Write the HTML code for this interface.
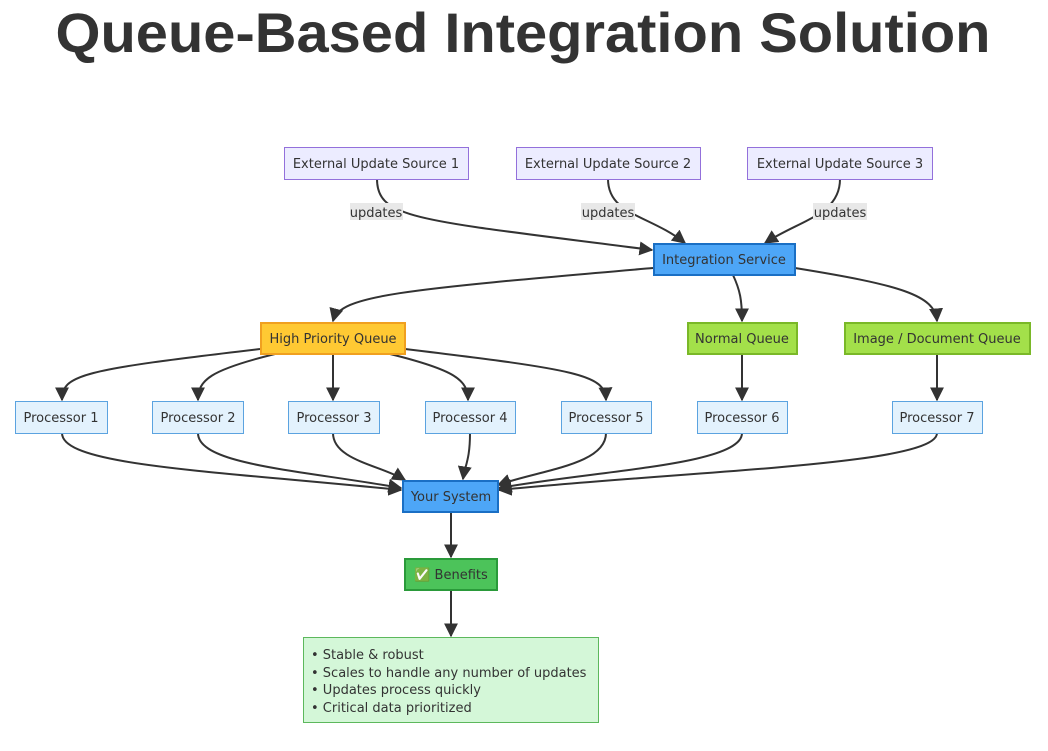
<!DOCTYPE html>
<html><head><meta charset="utf-8"><style>
html,body{margin:0;padding:0;background:#fff;}
svg text{font-family:"DejaVu Sans","Liberation Sans",sans-serif;fill:#333;}
svg text.t{font-family:"Liberation Sans","DejaVu Sans",sans-serif;}
</style></head><body>
<svg width="1048" height="746" viewBox="0 0 1048 746" xmlns="http://www.w3.org/2000/svg">
<defs><marker id="a" viewBox="0 0 10 10" refX="9" refY="5" markerWidth="7" markerHeight="7" orient="auto"><path d="M0,0L10,5L0,10z" fill="#333"/></marker></defs>
<text class="t" x="523" y="52" text-anchor="middle" font-size="56" font-weight="bold" textLength="935" lengthAdjust="spacingAndGlyphs">Queue-Based Integration Solution</text>
<g fill="none" stroke="#333" stroke-width="2" marker-end="url(#a)">
<path d="M377,179 C377,220 420,220 652,250"/>
<path d="M608,179 C608,215 650,215 685,243"/>
<path d="M840,179 C840,215 800,220 765,243"/>
<path d="M653,268 C400,290 340,295 333,321"/>
<path d="M733,275 C740,290 742,300 742,321"/>
<path d="M795,268 C900,285 935,295 937,321"/>
<path d="M260,349 C80,370 62,375 62,400"/>
<path d="M275,354 C210,370 198,380 198,400"/>
<path d="M333,354 L333,400"/>
<path d="M390,354 C455,370 468,380 468,400"/>
<path d="M405,349 C580,370 605,375 606,400"/>
<path d="M742,354 L742,400"/>
<path d="M937,354 L937,400"/>
<path d="M62,433 C62,465 200,470 401,490"/>
<path d="M198,433 C198,465 300,470 401,488"/>
<path d="M333,433 C333,460 380,465 405,480"/>
<path d="M470,433 C470,460 465,465 463,479"/>
<path d="M606,433 C606,465 540,470 498,485"/>
<path d="M742,433 C742,465 600,470 499,488"/>
<path d="M937,433 C937,465 700,470 499,490"/>
<path d="M451,512 L451,557"/>
<path d="M451,590 L451,636"/>
</g>
<g font-size="13" text-anchor="middle">
<rect x="350" y="203" width="53" height="17" fill="#e8e8e8"/><text x="376" y="217">updates</text>
<rect x="581" y="203" width="54" height="17" fill="#e8e8e8"/><text x="608" y="217">updates</text>
<rect x="813" y="203" width="54" height="17" fill="#e8e8e8"/><text x="840" y="217">updates</text>
</g>
<g font-size="13" text-anchor="middle" stroke-width="1">
<rect x="284.5" y="147.5" width="184" height="32" fill="#ececff" stroke="#9370db"/><text x="376" y="168">External Update Source 1</text>
<rect x="516.5" y="147.5" width="184" height="32" fill="#ececff" stroke="#9370db"/><text x="608" y="168">External Update Source 2</text>
<rect x="747.5" y="147.5" width="185" height="32" fill="#ececff" stroke="#9370db"/><text x="840" y="168">External Update Source 3</text>
<rect x="654" y="244" width="141" height="31" fill="#4da6f7" stroke="#1a6fc4" stroke-width="2"/><text x="724" y="264">Integration Service</text>
<rect x="261" y="323" width="144" height="31" fill="#ffc933" stroke="#f0a020" stroke-width="2"/><text x="333" y="343">High Priority Queue</text>
<rect x="688" y="323" width="109" height="31" fill="#a3e04a" stroke="#7ab828" stroke-width="2"/><text x="742" y="343">Normal Queue</text>
<rect x="845" y="323" width="185" height="31" fill="#a3e04a" stroke="#7ab828" stroke-width="2"/><text x="937" y="343">Image / Document Queue</text>
<g fill="#e3f2fd" stroke="#5ba3e0">
<rect x="15.5" y="401.5" width="92" height="32"/><rect x="152.5" y="401.5" width="91" height="32"/><rect x="288.5" y="401.5" width="91" height="32"/><rect x="425.5" y="401.5" width="90" height="32"/><rect x="561.5" y="401.5" width="90" height="32"/><rect x="697.5" y="401.5" width="90" height="32"/><rect x="892.5" y="401.5" width="90" height="32"/>
</g>
<text x="61" y="422">Processor 1</text><text x="198" y="422">Processor 2</text><text x="334" y="422">Processor 3</text><text x="470" y="422">Processor 4</text><text x="606" y="422">Processor 5</text><text x="742" y="422">Processor 6</text><text x="937" y="422">Processor 7</text>
<rect x="403" y="481" width="95" height="31" fill="#4da6f7" stroke="#1a6fc4" stroke-width="2"/><text x="451" y="501">Your System</text>
<rect x="405" y="559" width="92" height="31" fill="#4cc35a" stroke="#2a9a3a" stroke-width="2"/><text x="451" y="579">✅ Benefits</text>
<rect x="303.5" y="637.5" width="295" height="85" fill="#d4f7d8" stroke="#5cb85c"/>
</g>
<g font-size="13">
<text x="311" y="659">• Stable &amp; robust</text>
<text x="311" y="677">• Scales to handle any number of updates</text>
<text x="311" y="694">• Updates process quickly</text>
<text x="311" y="712">• Critical data prioritized</text>
</g>
</svg>
</body></html>
